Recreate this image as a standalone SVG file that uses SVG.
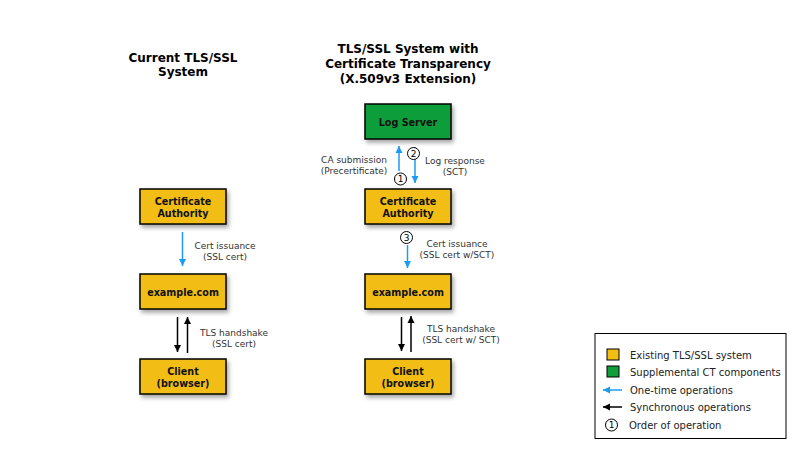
<svg xmlns="http://www.w3.org/2000/svg" width="800" height="450" viewBox="0 0 800 450">
<defs>
<style>
.title{font-family:"DejaVu Sans",Verdana,sans-serif;font-weight:bold;font-size:12px;fill:#000;text-anchor:middle}
.node rect{stroke:#000;stroke-width:1.5}
.ex rect{fill:#F2BE16}
.ct rect{fill:#0E9E3A}
.nl{font-family:"DejaVu Sans",Verdana,sans-serif;font-weight:bold;font-size:9.6px;fill:#111;text-anchor:middle}
.lbl{font-family:"DejaVu Sans",Verdana,sans-serif;font-size:9px;fill:#333;text-anchor:middle}
.leg{font-family:"DejaVu Sans",Verdana,sans-serif;font-size:10px;fill:#222}
.blue{stroke:#1A9CF2;stroke-width:1.5;fill:none;marker-end:url(#ab)}
.blk{stroke:#000;stroke-width:1.5;fill:none;marker-end:url(#ak)}
.num circle{fill:#fff;stroke:#000;stroke-width:1}
.num text{font-family:"DejaVu Sans",Verdana,sans-serif;font-size:9px;fill:#000;text-anchor:middle}
</style>
<filter id="sh" x="-20%" y="-20%" width="150%" height="160%">
<feDropShadow dx="2" dy="3" stdDeviation="2" flood-color="#000" flood-opacity="0.35"/>
</filter>
<marker id="ab" viewBox="0 0 10 10" markerUnits="userSpaceOnUse" markerWidth="7" markerHeight="8" refX="10" refY="5" orient="auto">
<path d="M0,0 L10,5 L0,10 z" fill="#1A9CF2"/>
</marker>
<marker id="ak" viewBox="0 0 10 10" markerUnits="userSpaceOnUse" markerWidth="7" markerHeight="8" refX="10" refY="5" orient="auto">
<path d="M0,0 L10,5 L0,10 z" fill="#000"/>
</marker>
</defs>
<rect width="800" height="450" fill="#fff"/>

<g id="titles">
<text class="title" x="183" y="62">Current TLS/SSL</text>
<text class="title" x="183" y="76">System</text>
<text class="title" x="408" y="53">TLS/SSL System with</text>
<text class="title" x="408" y="68">Certificate Transparency</text>
<text class="title" x="408" y="83">(X.509v3 Extension)</text>
</g>

<g id="connectors">
<line class="blue" x1="182.5" y1="232" x2="182.5" y2="266"/>
<line class="blk" x1="177.5" y1="317" x2="177.5" y2="352"/>
<line class="blk" x1="187.5" y1="353" x2="187.5" y2="317"/>
<line class="blue" x1="399" y1="171" x2="399" y2="146"/>
<line class="blue" x1="415" y1="147" x2="415" y2="183"/>
<line class="blue" x1="407.5" y1="245" x2="407.5" y2="268"/>
<line class="blk" x1="401.5" y1="317" x2="401.5" y2="351"/>
<line class="blk" x1="411" y1="352" x2="411" y2="316"/>
<text class="lbl" x="225" y="249">Cert issuance</text>
<text class="lbl" x="225" y="260">(SSL cert)</text>
<text class="lbl" x="234" y="336">TLS handshake</text>
<text class="lbl" x="234" y="347">(SSL cert)</text>
<text class="lbl" x="354" y="163">CA submission</text>
<text class="lbl" x="354" y="174">(Precertificate)</text>
<text class="lbl" x="455" y="164">Log response</text>
<text class="lbl" x="455" y="175">(SCT)</text>
<text class="lbl" x="457" y="247">Cert issuance</text>
<text class="lbl" x="457" y="258">(SSL cert w/SCT)</text>
<text class="lbl" x="461" y="332">TLS handshake</text>
<text class="lbl" x="461" y="343">(SSL cert w/ SCT)</text>
<g class="num"><circle cx="400.5" cy="179" r="6"/><text x="400.5" y="182.2">1</text></g>
<g class="num"><circle cx="413.5" cy="153.5" r="6"/><text x="413.5" y="156.7">2</text></g>
<g class="num"><circle cx="406.5" cy="237.5" r="6"/><text x="406.5" y="240.7">3</text></g>
</g>

<g id="ca-left" class="node ex"><rect x="140" y="189" width="86" height="35" filter="url(#sh)"/><text class="nl" x="183" y="204.5">Certificate</text><text class="nl" x="183" y="216.5">Authority</text></g>
<g id="example-left" class="node ex"><rect x="140" y="274" width="86" height="35" filter="url(#sh)"/><text class="nl" x="183" y="295.5">example.com</text></g>
<g id="client-left" class="node ex"><rect x="140" y="359" width="86" height="35" filter="url(#sh)"/><text class="nl" x="183" y="375">Client</text><text class="nl" x="183" y="387">(browser)</text></g>

<g id="log-server" class="node ct"><rect x="365" y="104" width="86" height="35" filter="url(#sh)"/><text class="nl" x="408" y="126">Log Server</text></g>
<g id="ca-right" class="node ex"><rect x="365" y="189" width="86" height="35" filter="url(#sh)"/><text class="nl" x="408" y="204.5">Certificate</text><text class="nl" x="408" y="216.5">Authority</text></g>
<g id="example-right" class="node ex"><rect x="365" y="274" width="86" height="35" filter="url(#sh)"/><text class="nl" x="408" y="295.5">example.com</text></g>
<g id="client-right" class="node ex"><rect x="365" y="359" width="86" height="35" filter="url(#sh)"/><text class="nl" x="408" y="375">Client</text><text class="nl" x="408" y="387">(browser)</text></g>

<g id="legend">
<rect x="595" y="333.5" width="191" height="105" fill="#fff" stroke="#000" stroke-width="1"/>
<rect x="607" y="349" width="12" height="11" fill="#F2BE16" stroke="#000" stroke-width="1"/>
<text class="leg" x="630" y="358.5">Existing TLS/SSL system</text>
<rect x="607" y="366" width="12" height="11" fill="#0E9E3A" stroke="#000" stroke-width="1"/>
<text class="leg" x="630" y="375.5">Supplemental CT components</text>
<line class="blue" x1="622" y1="390" x2="603" y2="390"/>
<text class="leg" x="630" y="393.5">One-time operations</text>
<line class="blk" x1="622" y1="407" x2="603" y2="407"/>
<text class="leg" x="630" y="410.5">Synchronous operations</text>
<g class="num"><circle cx="611.5" cy="425" r="6"/><text x="611.5" y="428.2">1</text></g>
<text class="leg" x="629" y="428.5">Order of operation</text>
</g>
</svg>
